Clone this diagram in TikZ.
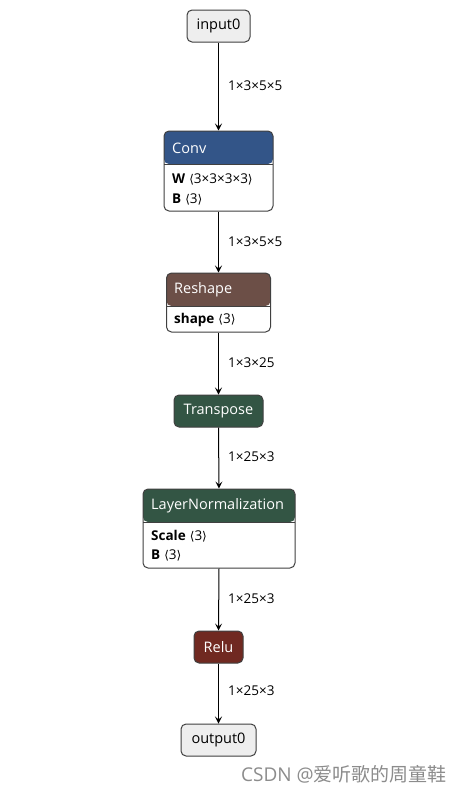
\documentclass[tikz,border=0pt]{standalone}
\usepackage{fontspec}
\setmainfont{Open Sans}
\newfontfamily\cjkfont{Noto Sans CJK SC}
\newfontfamily\symfont{DejaVu Sans}
\usetikzlibrary{arrows.meta}
\definecolor{bordc}{HTML}{404040}
\definecolor{plainfill}{HTML}{EEEEEE}
\definecolor{convc}{RGB}{51,85,136}
\definecolor{shapec}{RGB}{108,79,71}
\definecolor{greenc}{RGB}{51,85,68}
\definecolor{reluc}{RGB}{112,41,33}
\newcommand{\lt}{{\symfont\fontsize{12}{14}\selectfont ⟨}}
\newcommand{\rt}{{\symfont\fontsize{12}{14}\selectfont ⟩}}
\begin{document}
\begin{tikzpicture}[x=1pt,y=-1pt,
  boxbase/.style={draw=bordc, line width=1pt, rounded corners=5pt, inner sep=0pt},
  plainbox/.style={boxbase, fill=plainfill, font=\fontsize{14.5}{16}\selectfont, text=black},
  opbox/.style={boxbase, fill=#1, font=\fontsize{14.5}{16}\selectfont, text=white},
  hdrbox/.style={boxbase, fill=white,
     path picture={\fill[#1] (path picture bounding box.north west) rectangle ([yshift=-33pt]path picture bounding box.north east);
       \draw[bordc, line width=1pt] ([yshift=-33pt]path picture bounding box.north west) -- ([yshift=-33pt]path picture bounding box.north east);}},
  hdrtext/.style={anchor=west, text=white, font=\fontsize{14.5}{16}\selectfont, inner sep=0pt},
  bodytext/.style={anchor=west, text=black, font=\fontsize{13.5}{15}\selectfont, inner sep=0pt},
  edgelbl/.style={anchor=west, text=black, font=\fontsize{13.5}{15}\selectfont, inner sep=0pt},
  edge/.style={draw=black, line width=1pt, -{Stealth[length=7pt,width=7pt,inset=3pt]}}]
\useasboundingbox (0,0) rectangle (468,793);
\fill[white] (0,0) rectangle (468,793);

\node[plainbox, minimum width=63pt, minimum height=32pt] (in) at (218.5,26) {input0};

\node[hdrbox=convc, minimum width=109pt, minimum height=80pt] (conv) at (218.5,171) {};
\node[hdrtext] (convh) at (172,148) {Conv};
\node[bodytext] (convw) at (172,179) {\textbf{W}\hspace{4pt}\lt3×3×3×3\rt};
\node[bodytext] (convb) at (172,199) {\textbf{B}\hspace{4pt}\lt3\rt};

\node[hdrbox=shapec, minimum width=104pt, minimum height=59pt] (resh) at (218.5,302.5) {};
\node[hdrtext] (reshh) at (174,290) {Reshape};
\node[bodytext] (reshs) at (174,320) {\textbf{shape}\hspace{4pt}\lt3\rt};

\node[opbox=greenc, minimum width=89pt, minimum height=32pt] (tr) at (218.5,411) {Transpose};

\node[hdrbox=greenc, minimum width=152pt, minimum height=79pt] (ln) at (219,528.5) {};
\node[hdrtext] (lnh) at (151,506) {LayerNormalization};
\node[bodytext] (lns) at (151,536) {\textbf{Scale}\hspace{4pt}\lt3\rt};
\node[bodytext] (lnb) at (151,555) {\textbf{B}\hspace{4pt}\lt3\rt};

\node[opbox=reluc, minimum width=49pt, minimum height=32pt] (relu) at (218.5,647) {Relu};

\node[plainbox, minimum width=75pt, minimum height=32pt] (out) at (218.5,740) {output0};

\draw[edge] (in.south) -- (conv.north);
\draw[edge] (conv.south) -- (resh.north);
\draw[edge] (resh.south) -- (tr.north);
\draw[edge] (tr.south) -- (ln.north);
\draw[edge] (ln.south) -- (relu.north);
\draw[edge] (relu.south) -- (out.north);

\node[edgelbl] (l1) at (228,86) {1×3×5×5};
\node[edgelbl] (l2) at (228,242) {1×3×5×5};
\node[edgelbl] (l3) at (228,363) {1×3×25};
\node[edgelbl] (l4) at (228,457) {1×25×3};
\node[edgelbl] (l5) at (228,599) {1×25×3};
\node[edgelbl] (l6) at (228,691) {1×25×3};

\node[anchor=west, inner sep=0pt, text=black!45, font=\fontsize{19}{21}\selectfont] (wm) at (241,774) {CSDN @{\cjkfont 爱听歌的周童鞋}};
\end{tikzpicture}
\end{document}
